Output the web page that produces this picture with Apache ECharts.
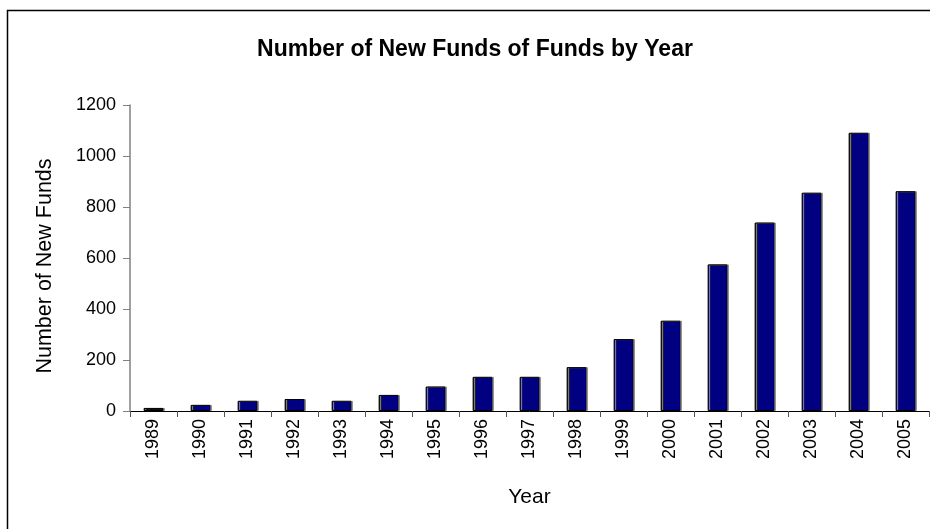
<!DOCTYPE html>
<html>
<head>
<meta charset="utf-8">
<script src="https://cdn.jsdelivr.net/npm/echarts@6/dist/echarts.min.js"></script>
<style>html,body{margin:0;padding:0;background:#fff}#c{width:930px;height:529px}</style>
</head>
<body>
<div id="c"></div>
<script>
const years = ['1989','1990','1991','1992','1993','1994','1995','1996','1997','1998','1999','2000','2001','2002','2003','2004','2005'];
const newFunds = [12, 24, 40, 47, 40, 63, 96, 134, 134, 172, 282, 354, 575, 739, 856, 1091, 862];
const yTicks = {min: 0, max: 1200, interval: 200};
const titleText = 'Number of New Funds of Funds by Year';
const yName = 'Number of New Funds';
const xName = 'Year';

const chart = echarts.init(document.getElementById('c'), null, {renderer: 'canvas'});
const FONT = 'Liberation Sans, Arial, sans-serif';
chart.setOption({
  animation: false,
  backgroundColor: '#fff',
  title: {
    text: titleText, left: 470, top: 33, textAlign: 'center',
    textStyle: {fontFamily: FONT, fontSize: 23, fontWeight: 'bold', color: '#000'}
  },
  graphic: [{
    type: 'rect', shape: {x: 7.5, y: 10.5, width: 1000, height: 1000},
    style: {fill: 'none', stroke: '#000', lineWidth: 1.5}, silent: true, z: -1
  }],
  grid: {left: 130, right: 1, top: 105, bottom: 118, containLabel: false},
  xAxis: {
    type: 'category', data: years,
    name: xName, nameLocation: 'middle', nameGap: 76,
    nameTextStyle: {fontFamily: FONT, fontSize: 21, color: '#000'},
    axisLine: {lineStyle: {color: '#000', width: 1}},
    axisTick: {show: true, length: 6, lineStyle: {color: '#555'}},
    axisLabel: {rotate: 90, margin: 8, fontFamily: FONT, fontSize: 18, color: '#000'},
    splitLine: {show: false}
  },
  yAxis: {
    type: 'value', min: yTicks.min, max: yTicks.max, interval: yTicks.interval,
    name: yName, nameLocation: 'middle', nameGap: 74, nameRotate: 90,
    nameTextStyle: {fontFamily: FONT, fontSize: 21.5, color: '#000', padding: [0, 16, 0, 0]},
    axisLine: {show: true, lineStyle: {color: '#808080', width: 1.5}},
    axisTick: {show: true, length: 7, lineStyle: {color: '#808080'}},
    axisLabel: {margin: 14, fontFamily: FONT, fontSize: 18, color: '#000',
      formatter: function (v) { return String(v); }},
    splitLine: {show: false}
  },
  series: [{
    type: 'bar', data: newFunds, barWidth: '42%',
    itemStyle: {color: '#000080', borderColor: '#000', borderWidth: 1,
      shadowColor: '#8a8a8a', shadowOffsetX: 1.5, shadowOffsetY: 0, shadowBlur: 0}
  }]
});
</script>
</body>
</html>
